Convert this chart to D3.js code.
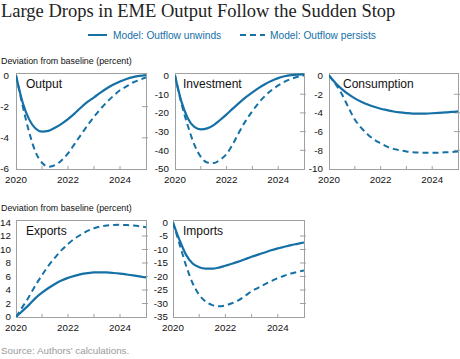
<!DOCTYPE html>
<html><head><meta charset="utf-8">
<script src="https://cdn.jsdelivr.net/npm/d3@7"></script>
<style>body{margin:0;background:#fff}svg{display:block}</style>
</head><body>
<script>
const years = [2020,2020.25,2020.5,2020.75,2021,2021.25,2021.5,2021.75,2022,2022.25,2022.5,2022.75,2023,2023.25,2023.5,2023.75,2024,2024.25,2024.5,2024.75,2025];
const xTickYears = [2020,2021,2022,2023,2024,2025];
const xTickLabels = ["2020","2022","2024"];
const seriesNames = ["Model: Outflow unwinds","Model: Outflow persists"];

const outputUnwinds = [0,-1.7,-2.8,-3.4,-3.6,-3.55,-3.35,-3.1,-2.8,-2.45,-2.05,-1.7,-1.4,-1.1,-0.82,-0.58,-0.38,-0.22,-0.1,-0.02,0.03];
const outputPersists = [0,-1.9,-3.6,-4.9,-5.6,-5.85,-5.75,-5.45,-5.0,-4.4,-3.8,-3.2,-2.65,-2.15,-1.7,-1.3,-0.95,-0.7,-0.45,-0.28,-0.12];
const outputTicks = [0,-2,-4,-6];

const investUnwinds = [0,-14,-23,-27.5,-28.8,-28.3,-26.5,-23.8,-20.8,-17.6,-14.5,-11.6,-9.0,-6.6,-4.5,-2.8,-1.4,-0.4,0.2,0.5,0.6];
const investPersists = [0,-15,-27,-37,-43.5,-46.5,-46.8,-45,-42,-36.5,-30,-24,-19,-14.5,-10.8,-7.8,-5.3,-3.3,-1.8,-0.7,0];
const investTicks = [0,-10,-20,-30,-40,-50];

const consUnwinds = [0,-0.8,-1.45,-2.0,-2.45,-2.8,-3.1,-3.35,-3.55,-3.7,-3.85,-3.95,-4.02,-4.07,-4.08,-4.07,-4.04,-4.0,-3.95,-3.9,-3.83];
const consPersists = [0,-0.9,-2.0,-3.4,-4.7,-5.6,-6.3,-6.85,-7.25,-7.6,-7.85,-8.0,-8.12,-8.2,-8.25,-8.27,-8.27,-8.25,-8.22,-8.18,-8.12];
const consTicks = [0,-2,-4,-6,-8,-10];

const exportUnwinds = [0,0.9,1.8,2.8,3.6,4.3,4.9,5.4,5.8,6.1,6.35,6.5,6.6,6.62,6.6,6.52,6.42,6.3,6.17,6.02,5.85];
const exportPersists = [0,1.5,3.0,4.7,6.2,7.6,8.8,9.9,10.8,11.6,12.2,12.75,13.15,13.4,13.55,13.62,13.65,13.62,13.55,13.45,13.3];
const exportTicks = [0,2,4,6,8,10,12,14];

const importUnwinds = [0,-6.5,-12,-15.2,-16.6,-17.1,-17.1,-16.7,-16.0,-15.3,-14.5,-13.6,-12.7,-11.9,-11.1,-10.3,-9.6,-9.0,-8.4,-7.9,-7.4];
const importPersists = [0,-8,-16,-22.5,-26.8,-29.3,-30.6,-31.0,-30.7,-29.9,-28.8,-27.2,-25.5,-24.2,-22.9,-21.7,-20.6,-19.7,-18.9,-18.3,-17.8];
const importTicks = [0,-5,-10,-15,-20,-25,-30,-35];

const panels = [
  {name:"Output", a:outputUnwinds, b:outputPersists, ticks:outputTicks, x0:16, x1:146, y0:73, y1:169, lx:10, gap:7},
  {name:"Investment", a:investUnwinds, b:investPersists, ticks:investTicks, x0:175, x1:304, y0:73, y1:169, lx:8, gap:6},
  {name:"Consumption", a:consUnwinds, b:consPersists, ticks:consTicks, x0:329, x1:458, y0:73, y1:169, lx:14, gap:6},
  {name:"Exports", a:exportUnwinds, b:exportPersists, ticks:exportTicks, x0:16, x1:146, y0:220, y1:317, lx:10, gap:5},
  {name:"Imports", a:importUnwinds, b:importPersists, ticks:importTicks, x0:173, x1:304, y0:220, y1:317, lx:10, gap:5}
];

const W = 460, H = 359;
const blue = "#1570a6";
const frameCol = "#a0a0a0";
const sans = "'Liberation Sans', Arial, sans-serif";

const svg = d3.select("body").append("svg").attr("width", W).attr("height", H);

svg.append("text").attr("x", 1).attr("y", 17)
  .style("font-family", "'Liberation Serif', 'DejaVu Serif', serif").style("font-size", "18.5px").attr("fill", "#222")
  .text("Large Drops in EME Output Follow the Sudden Stop");

// legend
const lg = svg.append("g");
lg.append("line").attr("x1", 88).attr("x2", 107).attr("y1", 35).attr("y2", 35).attr("stroke", blue).attr("stroke-width", 2);
lg.append("text").attr("x", 113).attr("y", 38.5).style("font-family", sans).style("font-size", "10.2px").attr("fill", blue).text(seriesNames[0]);
lg.append("line").attr("x1", 240).attr("x2", 265).attr("y1", 35).attr("y2", 35).attr("stroke", blue).attr("stroke-width", 2).attr("stroke-dasharray", "6,4");
lg.append("text").attr("x", 270).attr("y", 38.5).style("font-family", sans).style("font-size", "10.2px").attr("fill", blue).text(seriesNames[1]);

[64, 211].forEach(y => {
  svg.append("text").attr("x", 1).attr("y", y).style("font-family", sans).style("font-size", "8.9px").attr("fill", "#111")
    .text("Deviation from baseline (percent)");
});

svg.append("text").attr("x", 1).attr("y", 354).style("font-family", sans).style("font-size", "9.8px").attr("fill", "#9a9a9a")
  .text("Source: Authors' calculations.");

const defs = svg.append("defs");

panels.forEach((p, i) => {
  const x = d3.scaleLinear().domain([2020, 2025]).range([p.x0, p.x1]);
  const y = d3.scaleLinear().domain([d3.min(p.ticks), d3.max(p.ticks)]).range([p.y1, p.y0 + 2.5]);
  const g = svg.append("g");

  defs.append("clipPath").attr("id", "clip" + i).append("rect")
    .attr("x", p.x0).attr("y", p.y0).attr("width", p.x1 - p.x0).attr("height", p.y1 - p.y0);

  // y labels
  p.ticks.forEach(t => {
    g.append("text").attr("x", p.x0 - p.gap).attr("y", y(t)).attr("dy", "0.35em").attr("text-anchor", "end")
      .style("font-family", sans).style("font-size", "9.8px").attr("fill", "#111").text(t);
    if (t !== d3.min(p.ticks) && t !== d3.max(p.ticks)) {
      g.append("line").attr("x1", p.x1 - 4).attr("x2", p.x1 + 2).attr("y1", y(t)).attr("y2", y(t))
        .attr("stroke", frameCol).attr("stroke-width", 1);
    }
  });
  // x ticks
  xTickYears.forEach(t => {
    if (t > 2020 && t < 2025) {
      g.append("line").attr("x1", x(t)).attr("x2", x(t)).attr("y1", p.y1).attr("y2", p.y1 - 3)
        .attr("stroke", frameCol).attr("stroke-width", 1);
    }
  });
  xTickLabels.forEach(t => {
    g.append("text").attr("x", x(+t)).attr("y", p.y1 + 14).attr("text-anchor", "middle")
      .style("font-family", sans).style("font-size", "9.8px").attr("fill", "#111").text(t);
  });

  g.append("rect").attr("x", p.x0 + 0.5).attr("y", p.y0 + 0.5).attr("width", p.x1 - p.x0).attr("height", p.y1 - p.y0)
    .attr("fill", "none").attr("stroke", frameCol).attr("stroke-width", 1);

  const line = d3.line().x((d, j) => x(years[j])).y(d => y(d)).curve(d3.curveMonotoneX);
  const lines = g.append("g").attr("clip-path", `url(#clip${i})`);
  lines.append("path").attr("d", line(p.b)).attr("fill", "none").attr("stroke", blue).attr("stroke-width", 2).attr("stroke-dasharray", "6,4");
  lines.append("path").attr("d", line(p.a)).attr("fill", "none").attr("stroke", blue).attr("stroke-width", 2.2);

  g.append("text").attr("x", p.x0 + p.lx).attr("y", p.y0 + 14.5).style("font-family", sans).style("font-size", "12px").attr("fill", "#111").text(p.name);
});
</script>
</body></html>
